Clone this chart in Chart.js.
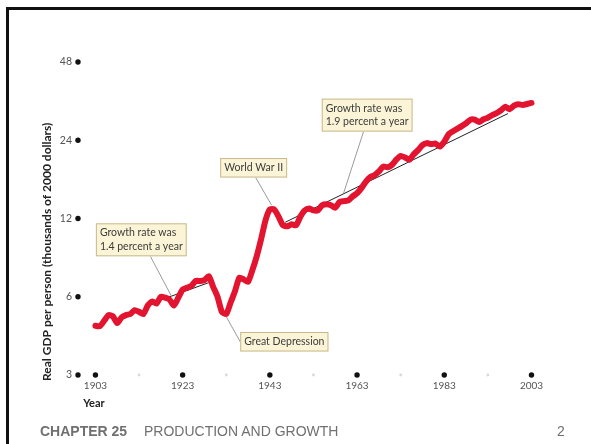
<!DOCTYPE html>
<html>
<head>
<meta charset="utf-8">
<script src="https://cdn.jsdelivr.net/npm/chart.js@4.4.1/dist/chart.umd.min.js"></script>
<style>
  html, body { margin: 0; padding: 0; background: #fff; }
  #page { position: relative; width: 591px; height: 444px; overflow: hidden; }
  #frame { position: absolute; left: 6px; top: 7px; width: 620px; height: 470px;
           border-top: 3px solid #111; border-left: 3px solid #111; }
  #wrap { position: absolute; left: 0; top: 0; width: 591px; height: 444px; }
  .foot { position: absolute; top: 423px; font: 14px "Liberation Sans", Arial, sans-serif; color: #707070; }
</style>
</head>
<body>
<div id="page">
  <div id="frame"></div>
  <div id="wrap"><canvas id="gdpChart"></canvas></div>
  <div class="foot" style="left:40px;font-weight:bold">CHAPTER 25</div>
  <div class="foot" style="left:144px">PRODUCTION AND GROWTH</div>
  <div class="foot" style="left:557px">2</div>
</div>

<script>
// real GDP per person, thousands of 2000 dollars, one value a year from 1903
const firstYear = 1903;
const gdp = [
  4.64, 4.62, 4.85, 5.10, 5.05, 4.75, 5.00, 5.10, 5.15, 5.33,   // 1903-1912
  5.25, 5.15, 5.55, 5.75, 5.65, 6.00, 5.95, 5.85, 5.55, 5.95,   // 1913-1922
  6.40, 6.50, 6.60, 6.90, 6.90, 6.95, 7.20, 6.55, 6.00, 5.25,   // 1923-1932
  5.15, 5.70, 6.30, 7.10, 7.00, 6.85, 7.60, 8.60, 10.0, 11.8,   // 1933-1942
  13.0, 13.0, 12.2, 11.3, 11.2, 11.4, 11.3, 12.2, 12.9, 13.1,   // 1943-1952
  12.9, 12.9, 13.5, 13.6, 13.5, 13.2, 13.9, 14.0, 14.1, 14.6,   // 1953-1962
  15.0, 15.7, 16.6, 17.3, 17.6, 18.2, 19.0, 18.9, 19.3, 20.2,   // 1963-1972
  20.9, 20.6, 20.2, 21.2, 22.0, 23.0, 23.4, 23.2, 23.3, 22.7,   // 1973-1982
  23.7, 25.3, 26.0, 26.6, 27.2, 27.9, 28.8, 28.8, 28.2, 28.9,   // 1983-1992
  29.3, 30.0, 30.5, 31.3, 32.3, 31.6, 32.6, 33.0, 32.8, 33.1,   // 1993-2002
  33.4                                                          // 2003
];
const years = gdp.map((v, i) => firstYear + i);

// trend lines
const trendEarlyYears = [1917, 1929];
const trendEarlyValues = [5.75, 6.8];
const trendLateYears = [1946.5, 1997.6];
const trendLateValues = [11.6, 30.4];

// ticks
const yTicks = [3, 6, 12, 24, 48];
const xTicks = [1903, 1923, 1943, 1963, 1983, 2003];
const xMinorTicks = [1913, 1933, 1953, 1973, 1993];

// callouts: box top-left and leader tip in data units
const notes = [
  { lines: ['Growth rate was', '1.4 percent a year'], boxYear: 1903.1, boxValue: 11.5,
    side: 'bottom', at: 0.6, tipYear: 1920.5, tipValue: 6.0 },
  { lines: ['World War II'], boxYear: 1931.6, boxValue: 20.5,
    side: 'bottom', at: 0.53, tipYear: 1943.4, tipValue: 13.5 },
  { lines: ['Growth rate was', '1.9 percent a year'], boxYear: 1954.9, boxValue: 34.7,
    side: 'bottom', at: 0.46, tipYear: 1959.9, tipValue: 15.0 },
  { lines: ['Great Depression'], boxYear: 1936.2, boxValue: 4.39,
    side: 'left', at: 0.5, tipYear: 1933.0, tipValue: 5.03 }
];

const toPoints = (xs, ys) => xs.map((x, i) => ({ x: x, y: ys[i] }));

const axisDecor = {
  id: 'axisDecor',
  beforeDatasetsDraw(chart) {
    const ctx = chart.ctx, xs = chart.scales.x, ys = chart.scales.y;
    const left = chart.chartArea.left, base = ys.getPixelForValue(3);
    ctx.save();
    // y tick dots and labels
    ctx.font = '10.5px Lato, "Open Sans", sans-serif';
    ctx.textBaseline = 'middle';
    yTicks.forEach(v => {
      const py = ys.getPixelForValue(v);
      ctx.fillStyle = '#111';
      ctx.beginPath(); ctx.arc(left, py, 2.7, 0, Math.PI * 2); ctx.fill();
      ctx.fillStyle = '#555';
      ctx.textAlign = 'right';
      ctx.fillText(String(v), left - 6, py);
    });
    // minor x dots
    ctx.fillStyle = '#d8d8d8';
    xMinorTicks.forEach(v => {
      ctx.beginPath(); ctx.arc(xs.getPixelForValue(v), base, 1.4, 0, Math.PI * 2); ctx.fill();
    });
    // x tick dots and labels
    ctx.font = '10px Lato, "Open Sans", sans-serif';
    ctx.textAlign = 'center';
    ctx.textBaseline = 'top';
    xTicks.forEach(v => {
      const px = xs.getPixelForValue(v);
      ctx.fillStyle = '#111';
      ctx.beginPath(); ctx.arc(px, base, 2.7, 0, Math.PI * 2); ctx.fill();
      ctx.fillStyle = '#555';
      ctx.fillText(String(v), px, base + 6);
    });
    // axis titles
    ctx.fillStyle = '#222';
    ctx.font = 'bold 11px Lato, "Open Sans", sans-serif';
    ctx.textAlign = 'left';
    ctx.fillText('Year', xs.getPixelForValue(1900.2), base + 23);
    ctx.font = 'bold 12px Lato, "Open Sans", sans-serif';
    ctx.translate(47, ys.getPixelForValue(3) + 6);
    ctx.rotate(-Math.PI / 2);
    ctx.textBaseline = 'middle';
    ctx.fillText('Real GDP per person (thousands of 2000 dollars)', 0, 0);
    ctx.restore();
  },
  afterDatasetsDraw(chart) {
    const ctx = chart.ctx, xs = chart.scales.x, ys = chart.scales.y;
    const lineH = 13.5, padX = 4, padY = 6;
    ctx.save();
    ctx.font = '10.5px Lato, "Open Sans", sans-serif';
    notes.forEach(n => {
      const bx = xs.getPixelForValue(n.boxYear), by = ys.getPixelForValue(n.boxValue);
      const w = Math.max(...n.lines.map(t => ctx.measureText(t).width)) + padX * 2;
      const h = n.lines.length * lineH + padY;
      let sx, sy;
      if (n.side === 'bottom') { sx = bx + w * n.at; sy = by + h; }
      else { sx = bx; sy = by + h * n.at; }
      ctx.strokeStyle = '#9a9a9a';
      ctx.lineWidth = 1;
      ctx.beginPath();
      ctx.moveTo(sx, sy);
      ctx.lineTo(xs.getPixelForValue(n.tipYear), ys.getPixelForValue(n.tipValue));
      ctx.stroke();
      ctx.fillStyle = '#fbf4d6';
      ctx.fillRect(bx, by, w, h);
      ctx.strokeStyle = '#c8b98f';
      ctx.strokeRect(bx + 0.5, by + 0.5, w - 1, h - 1);
      ctx.fillStyle = '#3c3c3c';
      ctx.textAlign = 'left';
      ctx.textBaseline = 'middle';
      n.lines.forEach((t, i) => ctx.fillText(t, bx + padX, by + padY / 2 + lineH * (i + 0.5)));
    });
    ctx.restore();
  }
};

new Chart(document.getElementById('gdpChart').getContext('2d'), {
  type: 'line',
  data: {
    datasets: [
      {
        label: 'Real GDP per person',
        data: toPoints(years, gdp),
        borderColor: '#e2142f',
        borderWidth: 6,
        borderCapStyle: 'round',
        borderJoinStyle: 'round',
        pointRadius: 0,
        tension: 0.2
      },
      {
        label: 'Trend 1903-1929',
        data: toPoints(trendEarlyYears, trendEarlyValues),
        borderColor: '#222',
        borderWidth: 1,
        pointRadius: 0
      },
      {
        label: 'Trend 1946-2003',
        data: toPoints(trendLateYears, trendLateValues),
        borderColor: '#222',
        borderWidth: 1,
        pointRadius: 0
      }
    ]
  },
  options: {
    responsive: true,
    maintainAspectRatio: false,
    animation: false,
    layout: { padding: { left: 78, right: 29, top: 62, bottom: 69 } },
    plugins: { legend: { display: false }, tooltip: { enabled: false } },
    scales: {
      x: { type: 'linear', min: 1899, max: 2010, display: false },
      y: { type: 'logarithmic', min: 3, max: 48, display: false }
    }
  },
  plugins: [axisDecor]
});
</script>
</body>
</html>
